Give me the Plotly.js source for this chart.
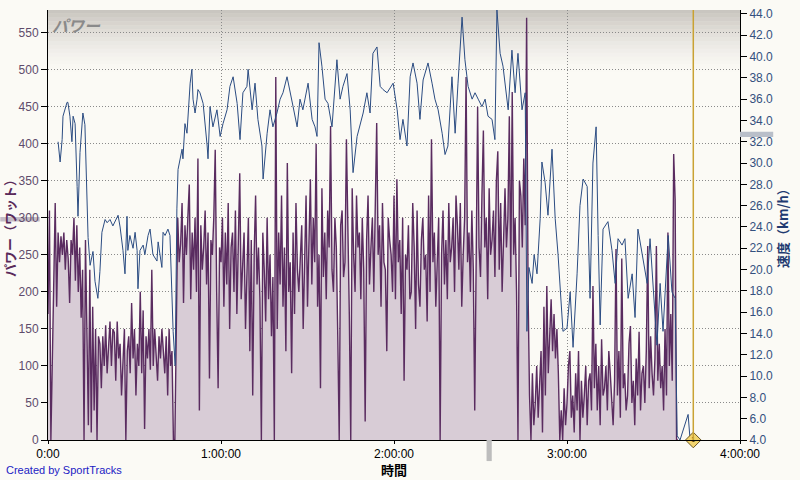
<!DOCTYPE html>
<html>
<head>
<meta charset="utf-8">
<script src="https://cdn.plot.ly/plotly-3.0.1.min.js"></script>
<style>
html,body{margin:0;padding:0;background:#fbfaf5;}
#chart{width:800px;height:480px;}
</style>
</head>
<body>
<div id="chart"></div>
<script>
// ---- data ----
// power (W), one sample every 30 s starting at 0:00
const powerStepMin = 0.5;
const powerWatts = [
170,310, 0,120, 230,320, 180,280, 240,275, 250,280, 230,270, 245,185, 270,250, 300,215, 290,200, 260,165, 230,0, 270,150, 20,230, 10,180, 40,150, 0,140,
130,70, 140,100, 155,90, 120,160, 100,150, 145,80, 160,110, 130,60, 105,150, 0,120, 140,90, 185,110, 150,60, 130,100, 200,90, 175,15, 140,110, 150,95, 230,100, 150,120, 80,140, 110,150, 125,90, 140,60, 150,100, 120,0, 0,150,
300,240, 265,320, 185,290, 250,300, 345,190, 280,230, 300,200, 380,40, 290,230, 260,310, 210,280, 83,270, 250,300, 392,200, 70,260,
240,300, 180,280, 210,320, 150,260, 280,200, 310,170, 250,360, 190,240, 280,150, 230,300, 120,270, 60,250, 330,210, 260,190,
0,280, 230,160, 300,190, 250,140, 220,0, 490,150, 280,210, 330,180, 260,120, 374,200, 240,90, 280,170, 320,230, 200,260, 290,150, 230,330, 180,270,
352,210, 300,240, 400,180, 250,70, 340,220, 280,190, 310,260, 424,230, 200,300, 260,140, 0,290, 310,220, 240,406, 300,170, 0,340, 250,200, 330,260, 280,190, 300,230, 25,270, 330,210, 260,300, 200,350, 428,250, 290,180, 320,240, 230,120, 300,270, 250,200, 330,190,
352,240, 270,170, 300,80, 250,230, 290,190, 200,320, 260,150, 310,210, 180,270, 300,230, 250,160, 330,200, 406,240, 280,180, 230,300, 0,250, 310,210, 270,190, 320,240, 260,300, 200,330, 290,230, 320,180, 250,300, 490,240, 280,200, 310,230, 40,300, 450,260, 220,330, 418,260, 300,190, 340,250, 270,310, 220,350, 390,230, 320,200, 280,340, 260,300, 437,220, 470,250, 300,200, 0,350, 330,260, 380,290, 570,200,
60,0, 90,20, 50,100, 30,80, 120,10, 180,60, 208,90, 150,190, 120,170, 110,150, 90,0, 40,0, 70,20, 50,100, 120,30, 60,10, 90,40, 120,0, 80,30, 60,100, 20,80, 90,40,
208,70, 130,40, 100,20, 136,60, 70,100, 40,120, 90,50, 20,80, 258,60, 120,30, 245,70, 90,40, 60,130, 154,50, 80,20, 110,60, 146,40, 90,100, 50,120, 262,70, 140,90, 60,110, 262,80, 130,70, 100,40, 150,60, 280,100, 170,80, 386,325, 0,0
];

// speed (km/h) readings at the given elapsed minutes
const speedMin = [
3.5,4.2,4.9,5.2,6.6,6.9,7.6,8.3,8.7,9.4,10.1,10.4,11.1,12.1,12.8,13.5,13.9,14.6,15.3,15.6,16.3,17.3,18.0,18.7,19.8,20.5,21.5,22.5,24.3,25.0,
26.0,26.7,27.4,27.7,28.4,29.5,30.2,30.9,31.2,31.9,33.0,33.6,34.7,35.4,36.4,37.8,38.2,39.5,39.9,40.6,41.6,42.3,43.4,44.1,44.7,45.1,46.5,46.8,47.5,48.2,
49.3,49.9,50.3,51.0,51.7,52.0,52.7,53.8,55.2,55.5,56.2,57.2,58.6,59.7,60.7,62.1,63.1,64.2,65.6,66.6,67.6,69.0,69.4,70.8,71.8,72.8,74.2,74.6,76.0,77.0,
78.0,79.4,80.5,81.5,82.9,83.9,85.0,86.4,87.4,88.4,90.2,91.6,92.6,93.3,94.0,95.0,96.1,97.1,98.5,100.2,101.3,102.3,103.7,104.8,105.8,107.2,108.2,109.3,110.6,111.7,
112.7,114.1,115.2,116.2,117.6,118.6,119.7,121.1,122.1,123.1,124.5,125.6,126.6,128.0,129.0,130.1,131.8,133.2,134.2,135.3,136.7,137.7,138.7,140.1,141.2,142.2,143.6,144.6,145.7,147.1,
148.1,149.2,150.5,151.6,152.6,154.0,155.0,155.7,156.8,157.8,159.2,159.6,160.9,162.0,163.0,164.4,165.5,166.1,166.8,167.9,168.6,169.6,170.7,171.3,172.4,173.4,174.8,175.9,176.9,178.6,
180.0,181.1,182.1,183.5,184.5,185.6,187.0,188.0,189.0,190.1,190.8,191.5,192.5,194.2,195.6,196.7,197.7,199.1,200.1,201.2,202.6,203.6,204.6,206.0,207.8,208.8,209.9,211.2,212.3,213.3,
215.1,216.4,217.5,218.2,219.2,221.0,222.0,222.7
];
const speedKmh = [
32.0,30.1,32.2,34.4,35.7,35.7,34.4,32.0,34.4,33.7,27.8,25.0,31.0,34.7,33.6,26.6,23.0,20.4,21.4,21.7,18.9,17.3,19.8,23.5,24.7,24.4,24.7,24.1,25.1,24.0,
21.8,19.6,25.0,21.8,23.2,22.0,23.5,21.8,18.2,21.8,22.3,21.4,23.2,23.8,21.4,20.8,22.6,20.2,23.5,23.2,23.8,23.2,14.2,11.0,25.7,29.4,31.3,30.4,33.7,32.8,
37.5,38.8,36.0,34.7,36.0,36.9,36.6,35.6,31.6,30.4,35.3,33.4,35.0,32.5,33.7,35.0,37.2,38.1,35.6,32.2,36.6,37.2,38.8,35.0,37.5,34.1,31.6,28.5,32.8,35.0,
33.4,34.7,36.0,36.6,38.1,36.9,35.3,33.4,36.0,35.0,37.5,34.1,33.4,32.5,41.3,39.1,36.0,35.6,33.4,39.7,36.0,37.2,38.4,35.0,29.1,32.5,33.7,34.7,36.6,34.7,
40.3,40.9,37.2,36.9,36.6,37.0,37.5,35.0,32.2,34.1,31.6,38.1,39.4,37.5,34.1,37.8,39.4,37.5,36.0,35.0,32.8,30.8,31.6,38.1,32.8,37.5,43.7,39.7,37.2,36.0,
36.6,36.0,35.3,36.0,34.4,34.1,32.2,44.4,40.3,39.1,36.0,35.0,40.6,36.6,40.3,35.0,36.6,14.2,20.2,18.7,21.4,19.6,24.8,30.1,28.2,25.1,31.3,24.8,21.4,14.2,
14.5,17.9,12.7,19.6,26.0,28.5,27.8,17.3,30.0,33.4,23.2,14.8,23.8,24.5,21.8,18.7,22.9,22.3,22.9,17.3,19.6,15.5,23.8,21.4,18.7,22.9,17.9,12.9,18.7,14.2,
23.2,17.9,17.3,4.4,4.0,5.7,6.4,4.0
];

const xTickVals = [0, 60, 120, 180, 240];
const xTickText = ["0:00", "1:00:00", "2:00:00", "3:00:00", "4:00:00"];
const lapMarkerMin = 223.8;
const lapLabel = "1";
const avgPowerMark = 298;
const avgSpeedMark = 32.7;
const avgTimeMark = 153;

// ---- build ----
const powerTime = powerWatts.map((_, i) => i * powerStepMin);

const tracePower = {
  x: powerTime, y: powerWatts, type: 'scatter', mode: 'lines',
  fill: 'tozeroy', fillcolor: '#d8ccd6',
  line: {color: '#5a2c60', width: 1.4}, hoverinfo: 'skip'
};
const traceSpeed = {
  x: speedMin, y: speedKmh, type: 'scatter', mode: 'lines', yaxis: 'y2',
  line: {color: '#2b4c82', width: 1}, hoverinfo: 'skip'
};
const traceLap = {
  x: [lapMarkerMin], y: [4], yaxis: 'y2', type: 'scatter', mode: 'markers+text',
  text: [lapLabel], textposition: 'middle center',
  textfont: {size: 7, color: '#3a2a00', family: 'Liberation Sans'},
  marker: {symbol: 'diamond', size: 12, color: '#f2d46e', line: {color: '#6a5520', width: 1}},
  cliponaxis: false, hoverinfo: 'skip'
};

const shapes = [];
// top gradient band
const nBands = 16;
for (let k = 0; k < nBands; k++) {
  shapes.push({
    type: 'rect', xref: 'paper', yref: 'paper', layer: 'below',
    x0: 0, x1: 1, y0: 1 - (k + 1) * 0.009, y1: 1 - k * 0.009,
    fillcolor: '#a9a39c', opacity: 0.6 * Math.pow(1 - k / nBands, 1.6), line: {width: 0}
  });
}
// lap line
shapes.push({type: 'line', xref: 'x', yref: 'paper', x0: lapMarkerMin, x1: lapMarkerMin, y0: 0, y1: 1,
  line: {color: '#c9a233', width: 1.5}, layer: 'above'});
// average markers
shapes.push({type: 'rect', xref: 'paper', yref: 'y', x0: -0.069, x1: -0.012, y0: avgPowerMark - 3, y1: avgPowerMark + 3,
  fillcolor: '#c4bcc6', line: {width: 0}, layer: 'below'});
shapes.push({type: 'rect', xref: 'paper', yref: 'y2', x0: 1.0, x1: 1.048, y0: avgSpeedMark - 0.25, y1: avgSpeedMark + 0.25,
  fillcolor: '#b9bfc9', line: {width: 0}, layer: 'above'});
shapes.push({type: 'rect', xref: 'x', yref: 'paper', x0: avgTimeMark - 0.9, x1: avgTimeMark + 0.9, y0: -0.049, y1: 0,
  fillcolor: '#bdbdbd', line: {width: 0}, layer: 'above'});

const gridDash = '1px,2px';

const layout = {
  width: 800, height: 480,
  margin: {l: 48, r: 60, t: 10, b: 40, pad: 0},
  paper_bgcolor: '#fbfaf5', plot_bgcolor: '#fbfaf5',
  showlegend: false,
  font: {family: 'Liberation Sans, Arial, sans-serif', size: 12, color: '#000'},
  xaxis: {
    range: [0, 240], tickvals: xTickVals, ticktext: xTickText,
    ticks: 'outside', ticklen: 3, tickcolor: '#000',
    showline: true, linecolor: '#000', linewidth: 1,
    showgrid: true, gridcolor: '#8a8a8a', griddash: gridDash, gridwidth: 1,
    zeroline: false, automargin: false,
    tickfont: {size: 12, color: '#000'}
  },
  yaxis: {
    range: [0, 580.6], tick0: 0, dtick: 50,
    ticks: 'outside', ticklen: 6, tickcolor: '#000',
    showline: true, linecolor: '#000', linewidth: 1,
    showgrid: true, gridcolor: '#8a8a8a', griddash: gridDash, gridwidth: 1,
    zeroline: false, automargin: false,
    tickfont: {size: 12, color: '#5e4b6b'},
    title: {text: 'パワー（ワット）', font: {family: 'Noto Sans CJK JP', size: 13, weight: 'bold', color: '#5a2a5a'}, standoff: 4}
  },
  yaxis2: {
    overlaying: 'y', side: 'right',
    range: [4, 44.37], tick0: 4, dtick: 2, tickformat: '.1f',
    ticks: 'outside', ticklen: 6, tickcolor: '#000',
    showline: true, linecolor: '#000', linewidth: 1,
    showgrid: false, zeroline: false, automargin: false,
    tickfont: {size: 12, color: '#34507e'},
    title: {text: '速度（km/h）', font: {family: 'Noto Sans CJK JP', size: 13, weight: 'bold', color: '#1f3a70'}, standoff: 4}
  },
  shapes: shapes,
  annotations: [
    {text: 'パワー', xref: 'paper', yref: 'paper', x: 0.003, y: 0.998, xanchor: 'left', yanchor: 'top',
     showarrow: false, font: {family: 'Noto Sans CJK JP', size: 16, weight: 'bold', color: '#8a8a8a', style: 'italic'}},
    {text: '時間', xref: 'paper', yref: 'paper', x: 0.5, y: -0.0935, xanchor: 'center', yanchor: 'bottom',
     showarrow: false, borderpad: 0, font: {family: 'Noto Sans CJK JP', size: 13, weight: 'bold', color: '#000'}},
    {text: 'Created by SportTracks', xref: 'paper', yref: 'paper', x: -0.0636, y: -0.0705, xanchor: 'left', yanchor: 'middle',
     showarrow: false, font: {family: 'Liberation Sans, Arial, sans-serif', size: 11, color: '#2222c4'}}
  ]
};

Plotly.newPlot('chart', [tracePower, traceSpeed, traceLap], layout, {displayModeBar: false, staticPlot: true});
</script>
</body>
</html>
